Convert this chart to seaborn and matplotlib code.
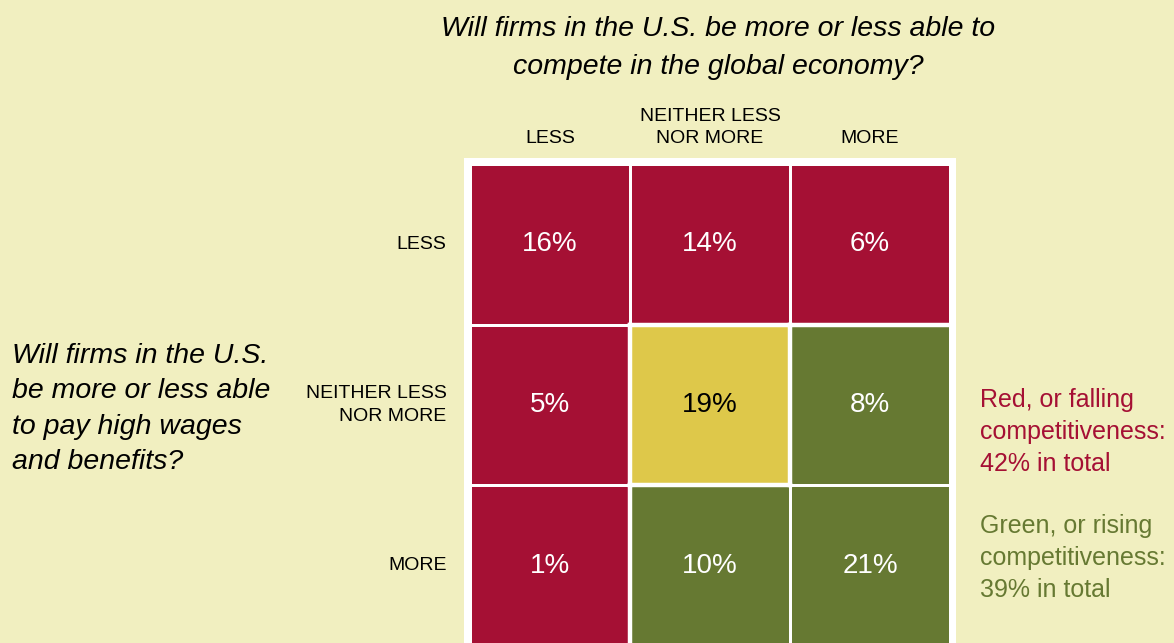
import numpy as np
import pandas as pd
import matplotlib
matplotlib.use("Agg")
import matplotlib.pyplot as plt
from matplotlib.colors import ListedColormap
from matplotlib.patches import Rectangle
import seaborn as sns

# answers to the competitiveness question (columns) and wages question (rows)
COL_LABELS = ["LESS", "NEITHER LESS\nNOR MORE", "MORE"]
ROW_LABELS = ["LESS", "NEITHER LESS\nNOR MORE", "MORE"]

# share of respondents in each cell, percent
SHARES = [[16, 14, 6],
          [5, 19, 8],
          [1, 10, 21]]

# 0 = falling (red), 1 = neutral (yellow), 2 = rising (green)
GROUPS = [[0, 0, 0],
          [0, 1, 2],
          [0, 2, 2]]

RED_TOTAL = 42
GREEN_TOTAL = 39

BG = "#F1EFC0"
RED = "#A51034"
YELLOW = "#DEC84A"
GREEN = "#667932"


def main():
    sns.set_theme(style="white")
    plt.rcParams["font.family"] = ["Liberation Sans", "DejaVu Sans"]
    plt.rcParams["text.color"] = "black"

    fig = plt.figure(figsize=(11.74, 6.43), dpi=100)
    fig.patch.set_facecolor(BG)

    ax = fig.add_axes([470 / 1174, 1 - 646 / 643, 480 / 1174, 482 / 643])
    ax.set_facecolor(BG)

    groups = pd.DataFrame(GROUPS, index=ROW_LABELS, columns=COL_LABELS)
    annot = np.array([[f"{v}%" for v in row] for row in SHARES])

    sns.heatmap(groups, ax=ax, cmap=ListedColormap([RED, YELLOW, GREEN]),
                vmin=-0.5, vmax=2.5, cbar=False, annot=annot, fmt="",
                linewidths=0.9, linecolor="white",
                annot_kws={"fontsize": 20, "color": "white"})

    # the neutral cell gets dark text
    for t, g in zip(ax.texts, np.array(GROUPS).ravel()):
        if g == 1:
            t.set_color("black")

    # white frame round the whole grid
    ax.add_patch(Rectangle((-0.035, -0.035), 3.07, 3.2, facecolor="white",
                           edgecolor="none", clip_on=False, zorder=-1))

    # thick white lines where the colour group changes
    g = np.array(GROUPS)
    for r in range(3):
        for c in range(3):
            if c < 2 and g[r, c] != g[r, c + 1]:
                ax.plot([c + 1, c + 1], [r, r + 1], color="white", lw=3.2,
                        solid_capstyle="projecting", zorder=5)
            if r < 2 and g[r, c] != g[r + 1, c]:
                ax.plot([c, c + 1], [r + 1, r + 1], color="white", lw=3.2,
                        solid_capstyle="projecting", zorder=5)

    ax.xaxis.tick_top()
    ax.tick_params(axis="both", length=0, labelsize=14, colors="black")
    ax.tick_params(axis="x", pad=12)
    ax.tick_params(axis="y", pad=17)
    plt.setp(ax.get_xticklabels(), rotation=0, ha="center",
             multialignment="center", linespacing=1.4)
    plt.setp(ax.get_yticklabels(), rotation=0, va="center",
             multialignment="right", linespacing=1.4)
    ax.set_xlabel("")
    ax.set_ylabel("")
    for s in ax.spines.values():
        s.set_visible(False)

    fig.text(718 / 1174, 1 - 48 / 643,
             "Will firms in the U.S. be more or less able to\ncompete in the global economy?",
             ha="center", va="center", fontsize=20.5, style="italic",
             linespacing=1.62)

    fig.text(12 / 1174, 1 - 409 / 643,
             "Will firms in the U.S.\nbe more or less able\nto pay high wages\nand benefits?",
             ha="left", va="center", fontsize=20.5, style="italic",
             linespacing=1.47)

    fig.text(980 / 1174, 1 - 432 / 643,
             f"Red, or falling\ncompetitiveness:\n{RED_TOTAL}% in total",
             ha="left", va="center", fontsize=18, color=RED, linespacing=1.4)
    fig.text(980 / 1174, 1 - 558 / 643,
             f"Green, or rising\ncompetitiveness:\n{GREEN_TOTAL}% in total",
             ha="left", va="center", fontsize=18, color=GREEN, linespacing=1.4)

    fig.savefig("out.png", dpi=100, facecolor=BG)


if __name__ == "__main__":
    main()
